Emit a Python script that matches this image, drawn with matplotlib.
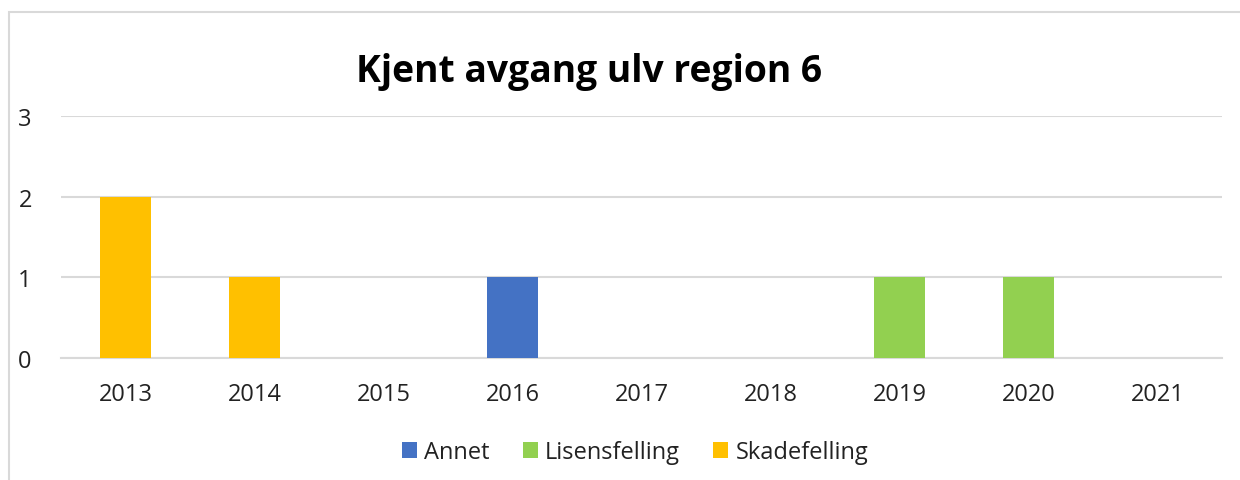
import matplotlib
matplotlib.use("Agg")
import matplotlib.pyplot as plt
from matplotlib.patches import Rectangle
import numpy as np

years = ["2013", "2014", "2015", "2016", "2017", "2018", "2019", "2020", "2021"]
annet = [0, 0, 0, 1, 0, 0, 0, 0, 0]
lisensfelling = [0, 0, 0, 0, 0, 0, 1, 1, 0]
skadefelling = [2, 1, 0, 0, 0, 0, 0, 0, 0]
series_names = ["Annet", "Lisensfelling", "Skadefelling"]
colors = ["#4472C4", "#92D050", "#FFC000"]
title = "Kjent avgang ulv region 6"

plt.rcParams['font.family'] = ['Open Sans', 'DejaVu Sans']

W, H = 1240, 481
fig = plt.figure(figsize=(W / 100, H / 100), dpi=100)
fig.patch.set_facecolor("white")

# chart border
fig.add_artist(Rectangle((9 / W, -0.1), 1.2, 1 - 13 / H + 0.1, transform=fig.transFigure,
                         fill=False, edgecolor="#D9D9D9", linewidth=1.5))

ax = fig.add_axes([61 / W, 1 - 359 / H, (1222 - 61) / W, (359 - 117) / H])
x = np.arange(len(years))
bottom = np.zeros(len(years))
for name, vals, c in zip(series_names, [annet, lisensfelling, skadefelling], colors):
    ax.bar(x, vals, width=0.4, bottom=bottom, color=c, label=name, zorder=3)
    bottom += np.array(vals)

ax.set_xlim(-0.5, len(years) - 0.5)
ax.set_ylim(0, 3)
ax.set_yticks([0, 1, 2, 3])
ax.set_xticks(x)
ax.set_xticklabels(years)
ax.yaxis.grid(True, color="#D9D9D9", linewidth=1.5, zorder=0)
ax.set_axisbelow(True)
for s in ["top", "right", "left"]:
    ax.spines[s].set_visible(False)
ax.spines["bottom"].set_color("#D9D9D9")
ax.spines["bottom"].set_linewidth(1.5)
ax.tick_params(axis="both", length=0, labelsize=17, colors="#222222")
ax.tick_params(axis="y", pad=21)
ax.tick_params(axis="x", pad=17)
ax.set_facecolor("none")

fig.text(589.5 / W, 1 - 82 / H, title, ha="center", va="baseline",
         fontsize=26.8, fontweight="bold", color="black")

handles, labels = ax.get_legend_handles_labels()
fig.legend(handles, labels, loc="center", bbox_to_anchor=(635 / W, 1 - 453 / H), ncol=3,
           frameon=False, fontsize=17, handlelength=0.65, handleheight=0.65,
           handletextpad=0.3, columnspacing=1.4, labelcolor="#222222")

fig.savefig("out.png", dpi=100)
